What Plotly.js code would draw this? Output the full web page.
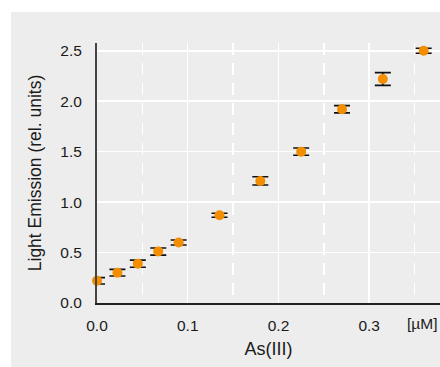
<!DOCTYPE html>
<html>
<head>
<meta charset="utf-8">
<script src="https://cdn.plot.ly/plotly-3.0.1.min.js"></script>
<style>
  html, body { margin: 0; padding: 0; background: #ffffff; width: 440px; height: 367px; overflow: hidden; }
  #chart { position: absolute; left: 11px; top: 12px; width: 429px; height: 355px; }
</style>
</head>
<body>
<div id="chart"></div>
<script>
// Data
const concentration = [0, 0.0225, 0.045, 0.0675, 0.09, 0.135, 0.18, 0.225, 0.27, 0.315, 0.36];
const emission      = [0.22, 0.30, 0.39, 0.51, 0.60, 0.87, 1.21, 1.50, 1.92, 2.22, 2.50];
const emissionError = [0.032, 0.033, 0.035, 0.035, 0.025, 0.02, 0.041, 0.036, 0.036, 0.063, 0.025];
const xTickVals = [0, 0.1, 0.2, 0.3];
const yTickVals = [0, 0.5, 1.0, 1.5, 2.0, 2.5];
const xTitle = 'As(III)';
const yTitle = 'Light Emission (rel. units)';
const unitLabel = '[µM]';

const FONT = 'Liberation Sans, Arial, Helvetica, sans-serif';

const errTrace = {
  type: 'scatter', mode: 'markers',
  x: concentration, y: emission,
  marker: { size: 10, color: 'rgba(0,0,0,0)' },
  error_y: { type: 'data', array: emissionError, visible: true, color: '#111111', thickness: 1.6, width: 8 },
  cliponaxis: true, hoverinfo: 'skip', showlegend: false
};
const ptTrace = {
  type: 'scatter', mode: 'markers',
  x: concentration, y: emission,
  marker: { size: 10, color: '#F28E00', line: { width: 0 } },
  cliponaxis: false, showlegend: false
};

const layout = {
  width: 429, height: 355,
  margin: { l: 86, r: 0, t: 31, b: 64 },
  paper_bgcolor: '#ededed', plot_bgcolor: '#ededed',
  font: { family: FONT, color: '#1a1a1a', size: 15.5 },
  showlegend: false,
  xaxis: {
    range: [0, 0.378], tickvals: xTickVals, tickformat: '.1f',
    showgrid: true, gridcolor: '#ffffff', gridwidth: 1.5,
    minor: { dtick: 0.05, tick0: 0, showgrid: true, gridcolor: '#ffffff', gridwidth: 1.5, griddash: '12px,8px', ticks: '' },
    zeroline: false, showline: true, linecolor: '#222222', linewidth: 2,
    ticks: 'outside', ticklen: 7, tickcolor: 'rgba(0,0,0,0)',
    tickfont: { size: 15.5, color: '#1a1a1a' },
    title: { text: xTitle, font: { size: 18, color: '#1a1a1a' }, standoff: 10 },
    fixedrange: true
  },
  yaxis: {
    range: [0, 2.577], tickvals: yTickVals, tickformat: '.1f',
    showgrid: true, gridcolor: '#ffffff', gridwidth: 1.5,
    zeroline: false, showline: true, linecolor: '#444444', linewidth: 2,
    ticks: 'outside', ticklen: 10, tickcolor: 'rgba(0,0,0,0)',
    tickfont: { size: 15.5, color: '#1a1a1a' },
    title: { text: yTitle, font: { size: 17.5, color: '#1a1a1a' }, standoff: 14 },
    fixedrange: true
  },
  annotations: [{
    text: unitLabel, xref: 'paper', yref: 'paper', x: 0.947, y: 0,
    xanchor: 'center', yanchor: 'middle', yshift: -20, showarrow: false,
    font: { size: 15.5, color: '#1a1a1a', family: FONT }
  }]
};

Plotly.newPlot('chart', [errTrace, ptTrace], layout, { displayModeBar: false, staticPlot: true });
</script>
</body>
</html>
